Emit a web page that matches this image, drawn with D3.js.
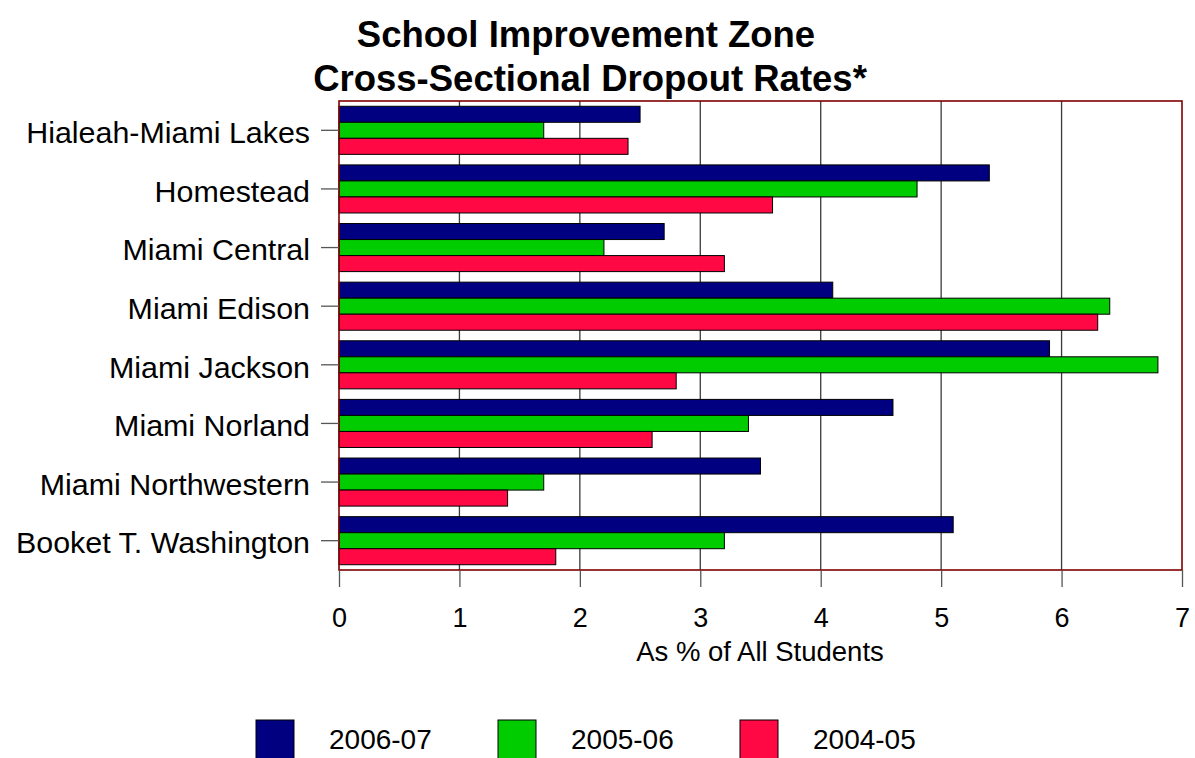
<!DOCTYPE html>
<html>
<head>
<meta charset="utf-8">
<script src="https://cdn.jsdelivr.net/npm/d3@7"></script>
<style>
  html, body { margin: 0; padding: 0; background: #fff; }
  #chart { width: 1195px; height: 758px; }
  text { font-family: "Liberation Sans", Arial, sans-serif; fill: #000; }
</style>
</head>
<body>
<div id="chart"></div>
<script>
// data
const schools = [
  'Hialeah-Miami Lakes', 'Homestead', 'Miami Central', 'Miami Edison',
  'Miami Jackson', 'Miami Norland', 'Miami Northwestern', 'Booket T. Washington'
];
const years = ['2006-07', '2005-06', '2004-05'];
const rate0607 = [2.5, 5.4, 2.7, 4.1, 5.9, 4.6, 3.5, 5.1];
const rate0506 = [1.7, 4.8, 2.2, 6.4, 6.8, 3.4, 1.7, 3.2];
const rate0405 = [2.4, 3.6, 3.2, 6.3, 2.8, 2.6, 1.4, 1.8];
const xTicks = [0, 1, 2, 3, 4, 5, 6, 7];
const colors = ['#000080', '#00cc00', '#ff0844'];

const series = [rate0607, rate0506, rate0405];

const width = 1195, height = 758;
const margin = { top: 101, right: 13, bottom: 188, left: 339 };

const svg = d3.select('#chart').append('svg')
  .attr('width', width)
  .attr('height', height);

// 1) title
const title = svg.append('text')
  .attr('text-anchor', 'middle')
  .attr('font-size', '36.5px')
  .attr('font-weight', 'bold');
title.append('tspan').attr('x', 586).attr('y', 47).text('School Improvement Zone');
title.append('tspan').attr('x', 590).attr('y', 91).text('Cross-Sectional Dropout Rates*');

// 2) scales
const x = d3.scaleLinear()
  .domain([0, 7])
  .range([margin.left, width - margin.right]);

const y = d3.scaleBand()
  .domain(schools)
  .range([margin.top, height - margin.bottom])
  .paddingInner(0.18)
  .paddingOuter(0.09);

const ySub = d3.scaleBand()
  .domain(d3.range(years.length))
  .range([0, y.bandwidth()]);

// 3) gridlines
svg.append('g')
  .selectAll('line')
  .data(xTicks.slice(1, -1))
  .join('line')
    .attr('x1', d => x(d)).attr('x2', d => x(d))
    .attr('y1', margin.top).attr('y2', height - margin.bottom)
    .attr('stroke', '#3a3a3a')
    .attr('stroke-width', 1.3);

// 4) bars
const rows = schools.map((s, i) => ({ school: s, values: series.map(v => v[i]) }));
svg.append('g')
  .selectAll('g')
  .data(rows)
  .join('g')
    .attr('transform', d => `translate(0,${y(d.school)})`)
  .selectAll('rect')
  .data(d => d.values)
  .join('rect')
    .attr('x', x(0))
    .attr('y', (d, i) => ySub(i))
    .attr('width', d => x(d) - x(0))
    .attr('height', ySub.bandwidth())
    .attr('fill', (d, i) => colors[i])
    .attr('stroke', '#000')
    .attr('stroke-width', 1);

// 5) plot frame
svg.append('rect')
  .attr('x', margin.left)
  .attr('y', margin.top)
  .attr('width', width - margin.right - margin.left)
  .attr('height', height - margin.bottom - margin.top)
  .attr('fill', 'none')
  .attr('stroke', '#800000')
  .attr('stroke-width', 1.6);

// 6) x axis
const xAxis = svg.append('g')
  .attr('transform', `translate(0,${height - margin.bottom})`)
  .call(d3.axisBottom(x).tickValues(xTicks).tickFormat(d3.format('d')).tickSize(17).tickPadding(21));
xAxis.select('.domain').remove();
xAxis.selectAll('.tick line').attr('stroke', '#555').attr('stroke-width', 1.3);
xAxis.selectAll('.tick text')
  .attr('font-size', '27px')
  .attr('font-family', '"Liberation Sans", Arial, sans-serif')
  .attr('fill', '#000');

svg.append('text')
  .attr('x', 760)
  .attr('y', 661)
  .attr('text-anchor', 'middle')
  .attr('font-size', '27.5px')
  .text('As % of All Students');

// 7) y axis (category labels)
const yAxis = svg.append('g')
  .attr('transform', `translate(${margin.left},0)`)
  .call(d3.axisLeft(y).tickSize(18).tickPadding(11));
yAxis.select('.domain').remove();
yAxis.selectAll('.tick line').attr('stroke', '#555').attr('stroke-width', 1.3);
yAxis.selectAll('.tick text')
  .attr('font-size', '30.4px')
  .attr('font-family', '"Liberation Sans", Arial, sans-serif')
  .attr('fill', '#000')
  .attr('dy', '0.42em');

// 8) legend
const legend = svg.append('g')
  .attr('transform', 'translate(256,720)');
const item = legend.selectAll('g')
  .data(years)
  .join('g')
    .attr('transform', (d, i) => `translate(${i * 242},0)`);
item.append('rect')
  .attr('width', 38)
  .attr('height', 42)
  .attr('fill', (d, i) => colors[i])
  .attr('stroke', '#000')
  .attr('stroke-width', 1);
item.append('text')
  .attr('x', 73)
  .attr('y', 29)
  .attr('font-size', '28px')
  .text(d => d);
</script>
</body>
</html>
